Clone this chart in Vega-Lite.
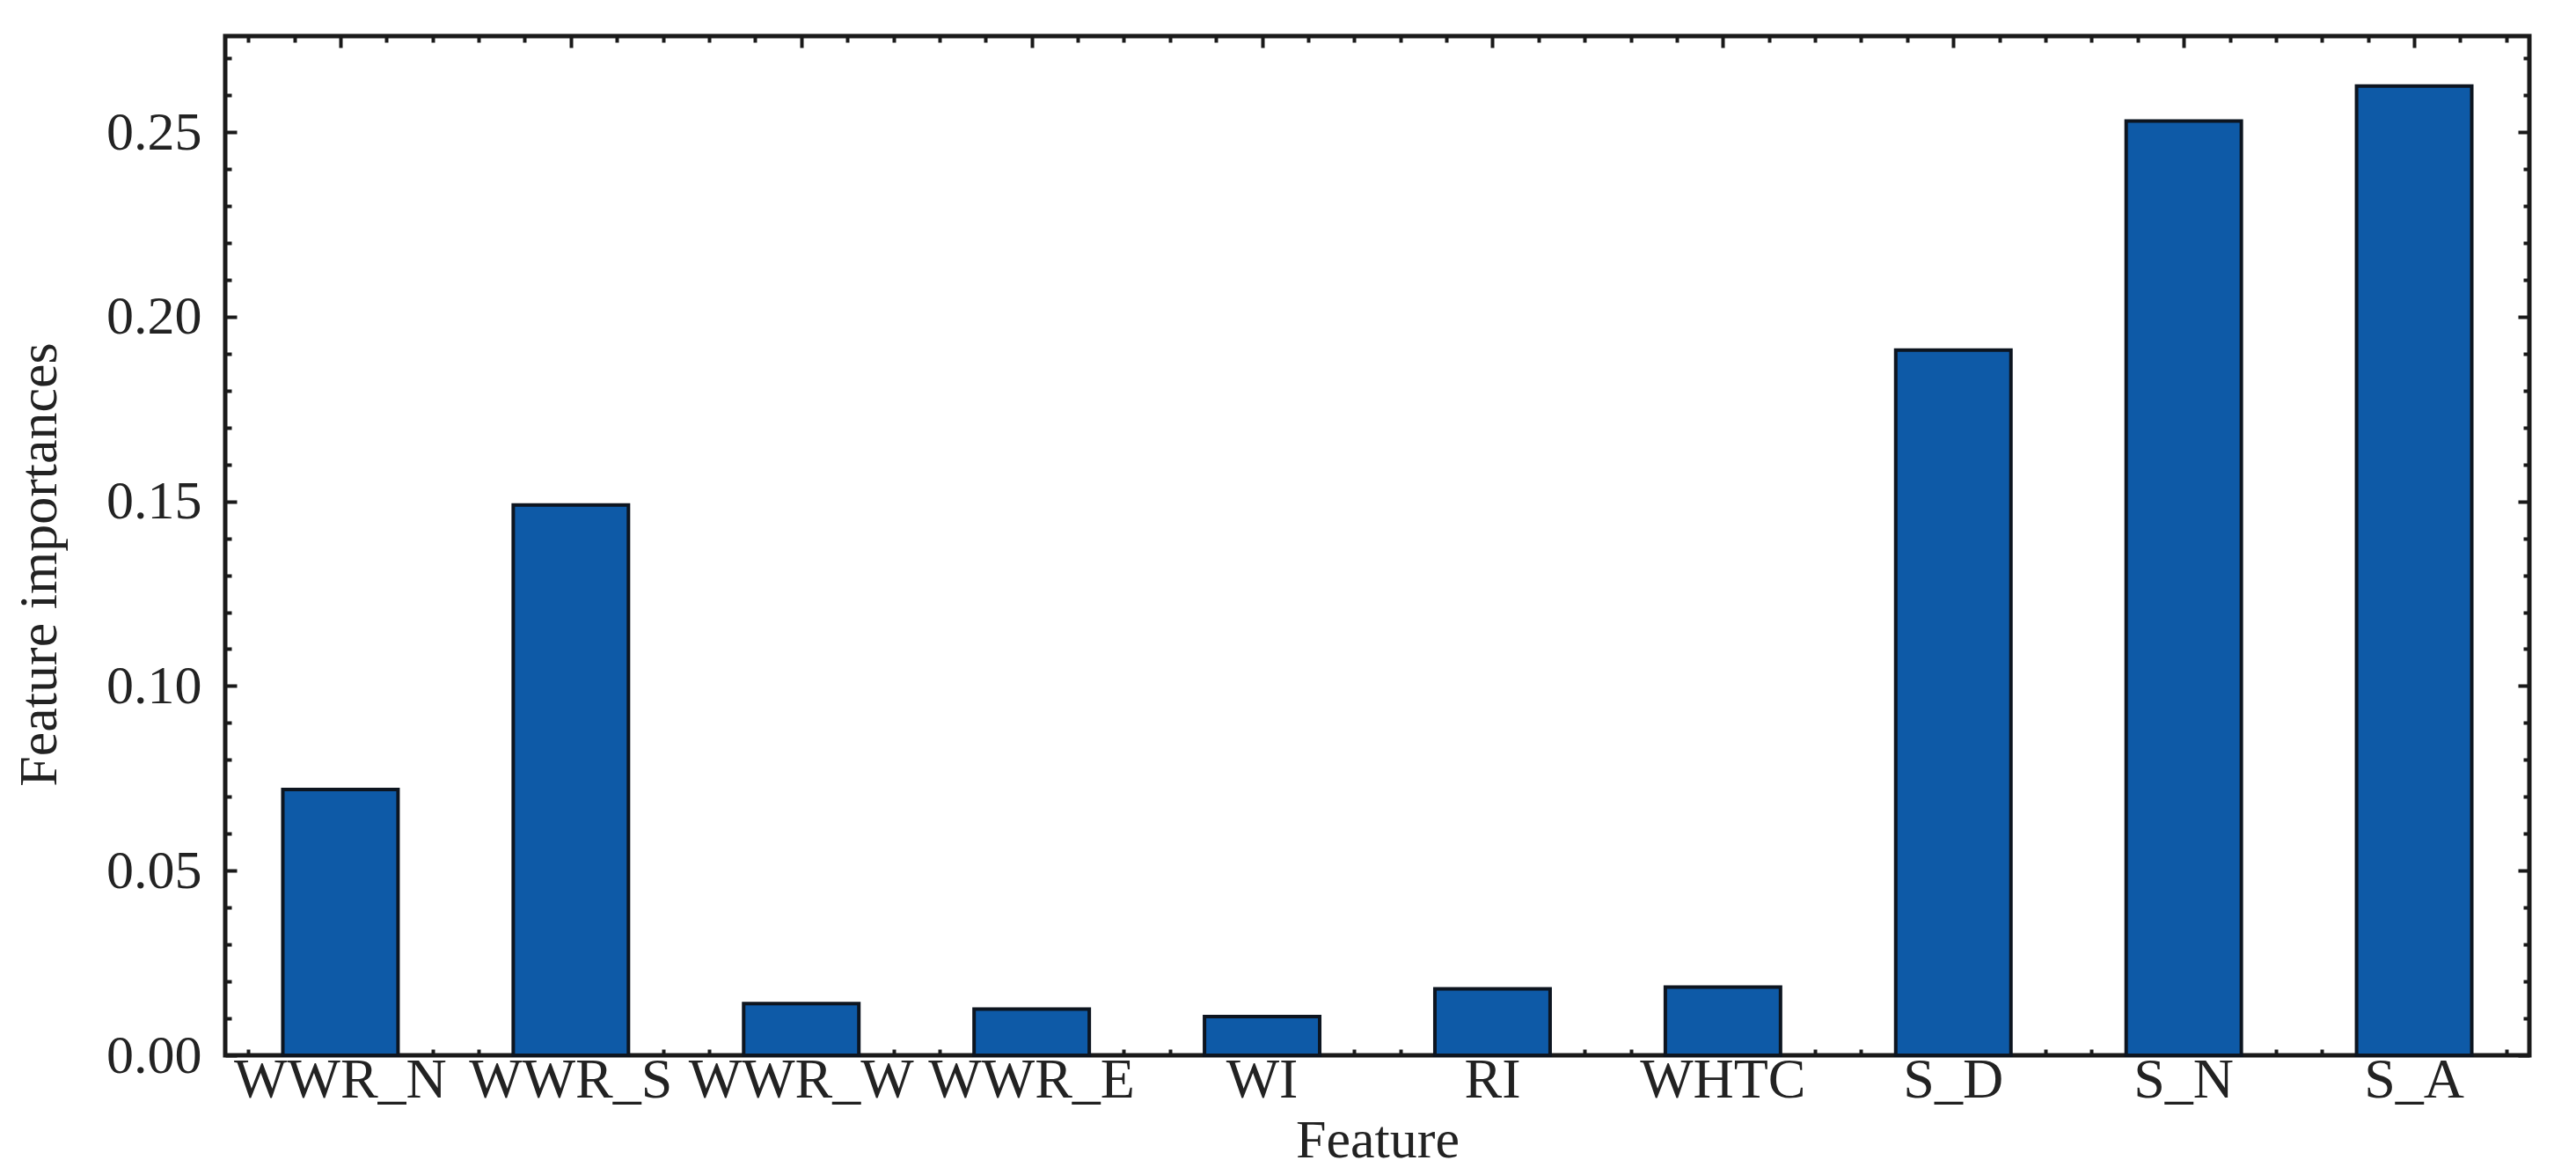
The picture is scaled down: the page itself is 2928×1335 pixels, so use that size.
{
  "$schema": "https://vega.github.io/schema/vega-lite/v6.json",
  "width": 2619,
  "height": 1158,
  "autosize": {"type": "none"},
  "padding": {"left": 256, "top": 41, "right": 53, "bottom": 136},
  "background": "white",
  "config": {
    "view": {"stroke": "#1a1a1a", "strokeWidth": 5},
    "font": "Liberation Serif",
    "axis": {
      "labelFont": "Liberation Serif",
      "titleFont": "Liberation Serif",
      "labelColor": "#222222",
      "titleColor": "#222222",
      "titleFontWeight": "normal",
      "domain": false,
      "grid": false,
      "tickColor": "#1a1a1a",
      "tickWidth": 4
    }
  },
  "data": {
    "values": [
      {"feature": "WWR_N", "importance": 0.072},
      {"feature": "WWR_S", "importance": 0.149},
      {"feature": "WWR_W", "importance": 0.014},
      {"feature": "WWR_E", "importance": 0.0125},
      {"feature": "WI", "importance": 0.0105},
      {"feature": "RI", "importance": 0.018},
      {"feature": "WHTC", "importance": 0.0185},
      {"feature": "S_D", "importance": 0.191},
      {"feature": "S_N", "importance": 0.253},
      {"feature": "S_A", "importance": 0.2625}
    ]
  },
  "layer": [
    {
      "mark": {"type": "bar", "color": "#0E5AA7", "stroke": "#0d1520", "strokeWidth": 4},
      "encoding": {
        "x": {
          "field": "feature",
          "type": "nominal",
          "sort": null,
          "scale": {"paddingInner": 0.5, "paddingOuter": 0.25},
          "axis": {
            "orient": "bottom",
            "title": "Feature",
            "labelAngle": 0,
            "ticks": false,
            "labelPadding": -4,
            "labelFontSize": 64,
            "labelLimit": 0,
            "titleFontSize": 62,
            "titlePadding": 6,
            "labelOverlap": false
          }
        },
        "y": {
          "field": "importance",
          "type": "quantitative",
          "scale": {"domain": [0, 0.276], "nice": false, "zero": true},
          "axis": {
            "orient": "left",
            "title": "Feature importances",
            "titleY": 600,
            "values": [0, 0.01, 0.02, 0.03, 0.04, 0.05, 0.06, 0.07, 0.08, 0.09, 0.1, 0.11, 0.12, 0.13, 0.14, 0.15, 0.16, 0.17, 0.18, 0.19, 0.2, 0.21, 0.22, 0.23, 0.24, 0.25, 0.26, 0.27],
            "tickSize": {"condition": {"test": "round(datum.value*100) % 5 === 0", "value": -13}, "value": -7},
            "labelExpr": "round(datum.value*100) % 5 === 0 ? format(datum.value, '.2f') : ''",
            "labelPadding": 40,
            "labelFontSize": 62,
            "titleFontSize": 62,
            "titlePadding": 44,
            "labelOverlap": false,
            "labelFlush": false
          }
        }
      }
    },
    {
      "mark": {"type": "point", "opacity": 0},
      "encoding": {
        "x": {
          "datum": 0,
          "type": "quantitative",
          "scale": {"domain": [-0.5, 9.5], "nice": false, "zero": false},
          "axis": {
            "orient": "bottom",
            "title": null,
            "labels": false,
            "values": [-0.4, -0.2, 0, 0.2, 0.4, 0.6, 0.8, 1, 1.2, 1.4, 1.6, 1.8, 2, 2.2, 2.4, 2.6, 2.8, 3, 3.2, 3.4, 3.6, 3.8, 4, 4.2, 4.4, 4.6, 4.8, 5, 5.2, 5.4, 5.6, 5.8, 6, 6.2, 6.4, 6.6, 6.8, 7, 7.2, 7.4, 7.6, 7.8, 8, 8.2, 8.4, 8.6, 8.8, 9, 9.2, 9.4],
            "tickSize": {"condition": {"test": "abs(datum.value - round(datum.value)) < 0.01", "value": -13}, "value": -7}
          }
        },
        "y": {
          "datum": 0,
          "type": "quantitative",
          "axis": {
            "orient": "right",
            "title": null,
            "labels": false,
            "values": [0, 0.01, 0.02, 0.03, 0.04, 0.05, 0.06, 0.07, 0.08, 0.09, 0.1, 0.11, 0.12, 0.13, 0.14, 0.15, 0.16, 0.17, 0.18, 0.19, 0.2, 0.21, 0.22, 0.23, 0.24, 0.25, 0.26, 0.27],
            "tickSize": {"condition": {"test": "round(datum.value*100) % 5 === 0", "value": -13}, "value": -7}
          }
        }
      }
    },
    {
      "mark": {"type": "point", "opacity": 0},
      "encoding": {
        "x": {
          "datum": 0,
          "type": "quantitative",
          "scale": {"domain": [-0.5, 9.5], "nice": false, "zero": false},
          "axis": {
            "orient": "top",
            "title": null,
            "labels": false,
            "values": [-0.4, -0.2, 0, 0.2, 0.4, 0.6, 0.8, 1, 1.2, 1.4, 1.6, 1.8, 2, 2.2, 2.4, 2.6, 2.8, 3, 3.2, 3.4, 3.6, 3.8, 4, 4.2, 4.4, 4.6, 4.8, 5, 5.2, 5.4, 5.6, 5.8, 6, 6.2, 6.4, 6.6, 6.8, 7, 7.2, 7.4, 7.6, 7.8, 8, 8.2, 8.4, 8.6, 8.8, 9, 9.2, 9.4],
            "tickSize": {"condition": {"test": "abs(datum.value - round(datum.value)) < 0.01", "value": -13}, "value": -7}
          }
        }
      }
    }
  ],
  "resolve": {
    "scale": {"x": "independent"},
    "axis": {"x": "independent", "y": "independent"}
  }
}
